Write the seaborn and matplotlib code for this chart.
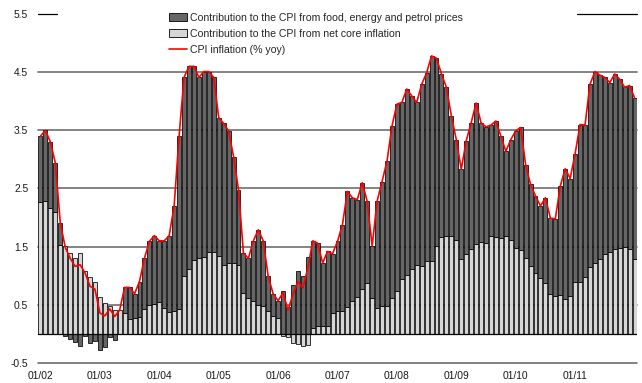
import numpy as np
import pandas as pd
import matplotlib
matplotlib.use("Agg")
import matplotlib.pyplot as plt
from matplotlib.patches import Patch
from matplotlib.lines import Line2D
import seaborn as sns

sns.set_theme(style="white")
plt.rcParams["font.family"] = ["Liberation Sans", "DejaVu Sans"]

# Monthly data, January 2002 - January 2012
cpi = [3.40, 3.50, 3.30, 2.94, 1.91, 1.49, 1.30, 1.16, 1.19, 1.05, 0.82, 0.77,
       0.36, 0.31, 0.43, 0.30, 0.41, 0.80, 0.80, 0.69, 0.90, 1.30, 1.59, 1.69,
       1.60, 1.60, 1.69, 2.20, 3.40, 4.41, 4.60, 4.60, 4.41, 4.51, 4.51, 4.41,
       3.72, 3.62, 3.49, 3.05, 2.48, 1.39, 1.30, 1.60, 1.79, 1.60, 0.99, 0.69,
       0.57, 0.71, 0.41, 0.68, 0.90, 0.79, 1.13, 1.60, 1.56, 1.22, 1.42, 1.38,
       1.59, 1.88, 2.45, 2.34, 2.31, 2.60, 2.28, 1.51, 2.28, 2.62, 2.97, 3.57,
       3.95, 3.98, 4.21, 4.09, 3.98, 4.29, 4.49, 4.78, 4.74, 4.47, 4.24, 3.75,
       3.34, 2.83, 3.32, 3.63, 3.97, 3.63, 3.56, 3.59, 3.66, 3.40, 3.14, 3.34,
       3.49, 3.55, 2.91, 2.57, 2.37, 2.20, 2.34, 1.99, 1.98, 2.54, 2.84, 2.67,
       3.10, 3.60, 3.59, 4.29, 4.51, 4.45, 4.41, 4.32, 4.47, 4.38, 4.24, 4.27,
       4.06]

core = [2.27, 2.28, 2.16, 2.10, 1.53, 1.52, 1.39, 1.30, 1.39, 1.09, 0.98, 0.89,
        0.63, 0.54, 0.48, 0.41, 0.41, 0.36, 0.25, 0.28, 0.29, 0.42, 0.49, 0.52,
        0.55, 0.45, 0.38, 0.39, 0.43, 0.99, 1.12, 1.27, 1.30, 1.32, 1.41, 1.40,
        1.34, 1.19, 1.22, 1.22, 1.18, 0.70, 0.62, 0.56, 0.50, 0.48, 0.39, 0.30,
        0.27, -0.03, -0.06, -0.16, -0.18, -0.20, -0.19, 0.10, 0.13, 0.14, 0.14, 0.36,
        0.39, 0.39, 0.47, 0.56, 0.64, 0.77, 0.87, 0.61, 0.44, 0.48, 0.48, 0.61,
        0.73, 0.94, 1.02, 1.11, 1.19, 1.17, 1.25, 1.26, 1.51, 1.66, 1.68, 1.69,
        1.62, 1.28, 1.38, 1.46, 1.54, 1.58, 1.57, 1.69, 1.67, 1.65, 1.68, 1.62,
        1.48, 1.45, 1.30, 1.16, 1.05, 0.96, 0.88, 0.68, 0.65, 0.67, 0.60, 0.65,
        0.89, 0.89, 0.98, 1.15, 1.22, 1.28, 1.38, 1.40, 1.46, 1.48, 1.49, 1.46,
        1.28]

year_labels = ["01/02", "01/03", "01/04", "01/05", "01/06",
               "01/07", "01/08", "01/09", "01/10", "01/11"]
y_ticks = [-0.5, 0.5, 1.5, 2.5, 3.5, 4.5, 5.5]

series_names = ["Contribution to the CPI from food, energy and petrol prices",
                "Contribution to the CPI from net core inflation",
                "CPI inflation (% yoy)"]

DARK = "#666666"
LIGHT = "#d6d6d6"

df = pd.DataFrame({"pos": np.arange(len(cpi)), "cpi": cpi, "core": core})
df["food"] = df["cpi"] - df["core"]
# stack the food/energy part on top of core only when both share a sign
same_sign = np.sign(df["food"]) == np.sign(df["core"])
df["food_base"] = np.where(same_sign, df["core"], 0.0)

W, H = 642, 383
fig = plt.figure(figsize=(W / 100, H / 100), dpi=100)
ax = fig.add_axes([38 / W, 1 - 363 / H, 599 / W, 349 / H])

# horizontal grid
for y in y_ticks[:-1]:
    ax.axhline(y, color="#6e6e6e", lw=1.2, zorder=0.5, clip_on=False)
# top line is interrupted by the legend area
ax.axhline(5.5, xmin=0, xmax=19 / 599, color="black", lw=0.9, clip_on=False)
ax.axhline(5.5, xmin=539 / 599, xmax=1, color="black", lw=0.9, clip_on=False)

bar_w = 0.8
ax.bar(df["pos"], df["core"], width=bar_w, color=LIGHT, edgecolor="black",
       linewidth=0.55, zorder=2)
ax.bar(df["pos"], df["food"], bottom=df["food_base"], width=bar_w, color=DARK,
       edgecolor="black", linewidth=0.55, zorder=2)
ax.axhline(0, color="black", lw=0.9, zorder=2.5)

sns.lineplot(data=df, x="pos", y="cpi", color="#ff0000", lw=1.2, ax=ax,
             zorder=4, legend=False)

ax.set_xlim(-0.5, len(cpi) - 0.5)
ax.set_ylim(-0.5, 5.5)
ax.set_yticks(y_ticks)
ax.set_yticklabels([f"{v:.1f}" for v in y_ticks])
ax.set_xticks(np.arange(0, 12 * len(year_labels), 12))
ax.set_xticklabels(year_labels)
ax.set_xlabel("")
ax.set_ylabel("")
ax.tick_params(axis="both", length=0, labelsize=7.4, colors="#1a1a1a")
ax.tick_params(axis="y", pad=7)
ax.tick_params(axis="x", pad=6)
for s in ax.spines.values():
    s.set_visible(False)

handles = [Patch(facecolor=DARK, edgecolor="black", linewidth=0.6),
           Patch(facecolor=LIGHT, edgecolor="black", linewidth=0.6),
           Line2D([], [], color="#ff0000", lw=1.2)]
ax.legend(handles, series_names, loc="upper left",
          bbox_to_anchor=(169 / W, 1 - 13 / H), bbox_transform=fig.transFigure,
          frameon=False, fontsize=7.6, handlelength=1.7, handleheight=0.8,
          handletextpad=0.3, labelspacing=0.55, borderpad=0, borderaxespad=0)

fig.savefig("out.png", dpi=100)
